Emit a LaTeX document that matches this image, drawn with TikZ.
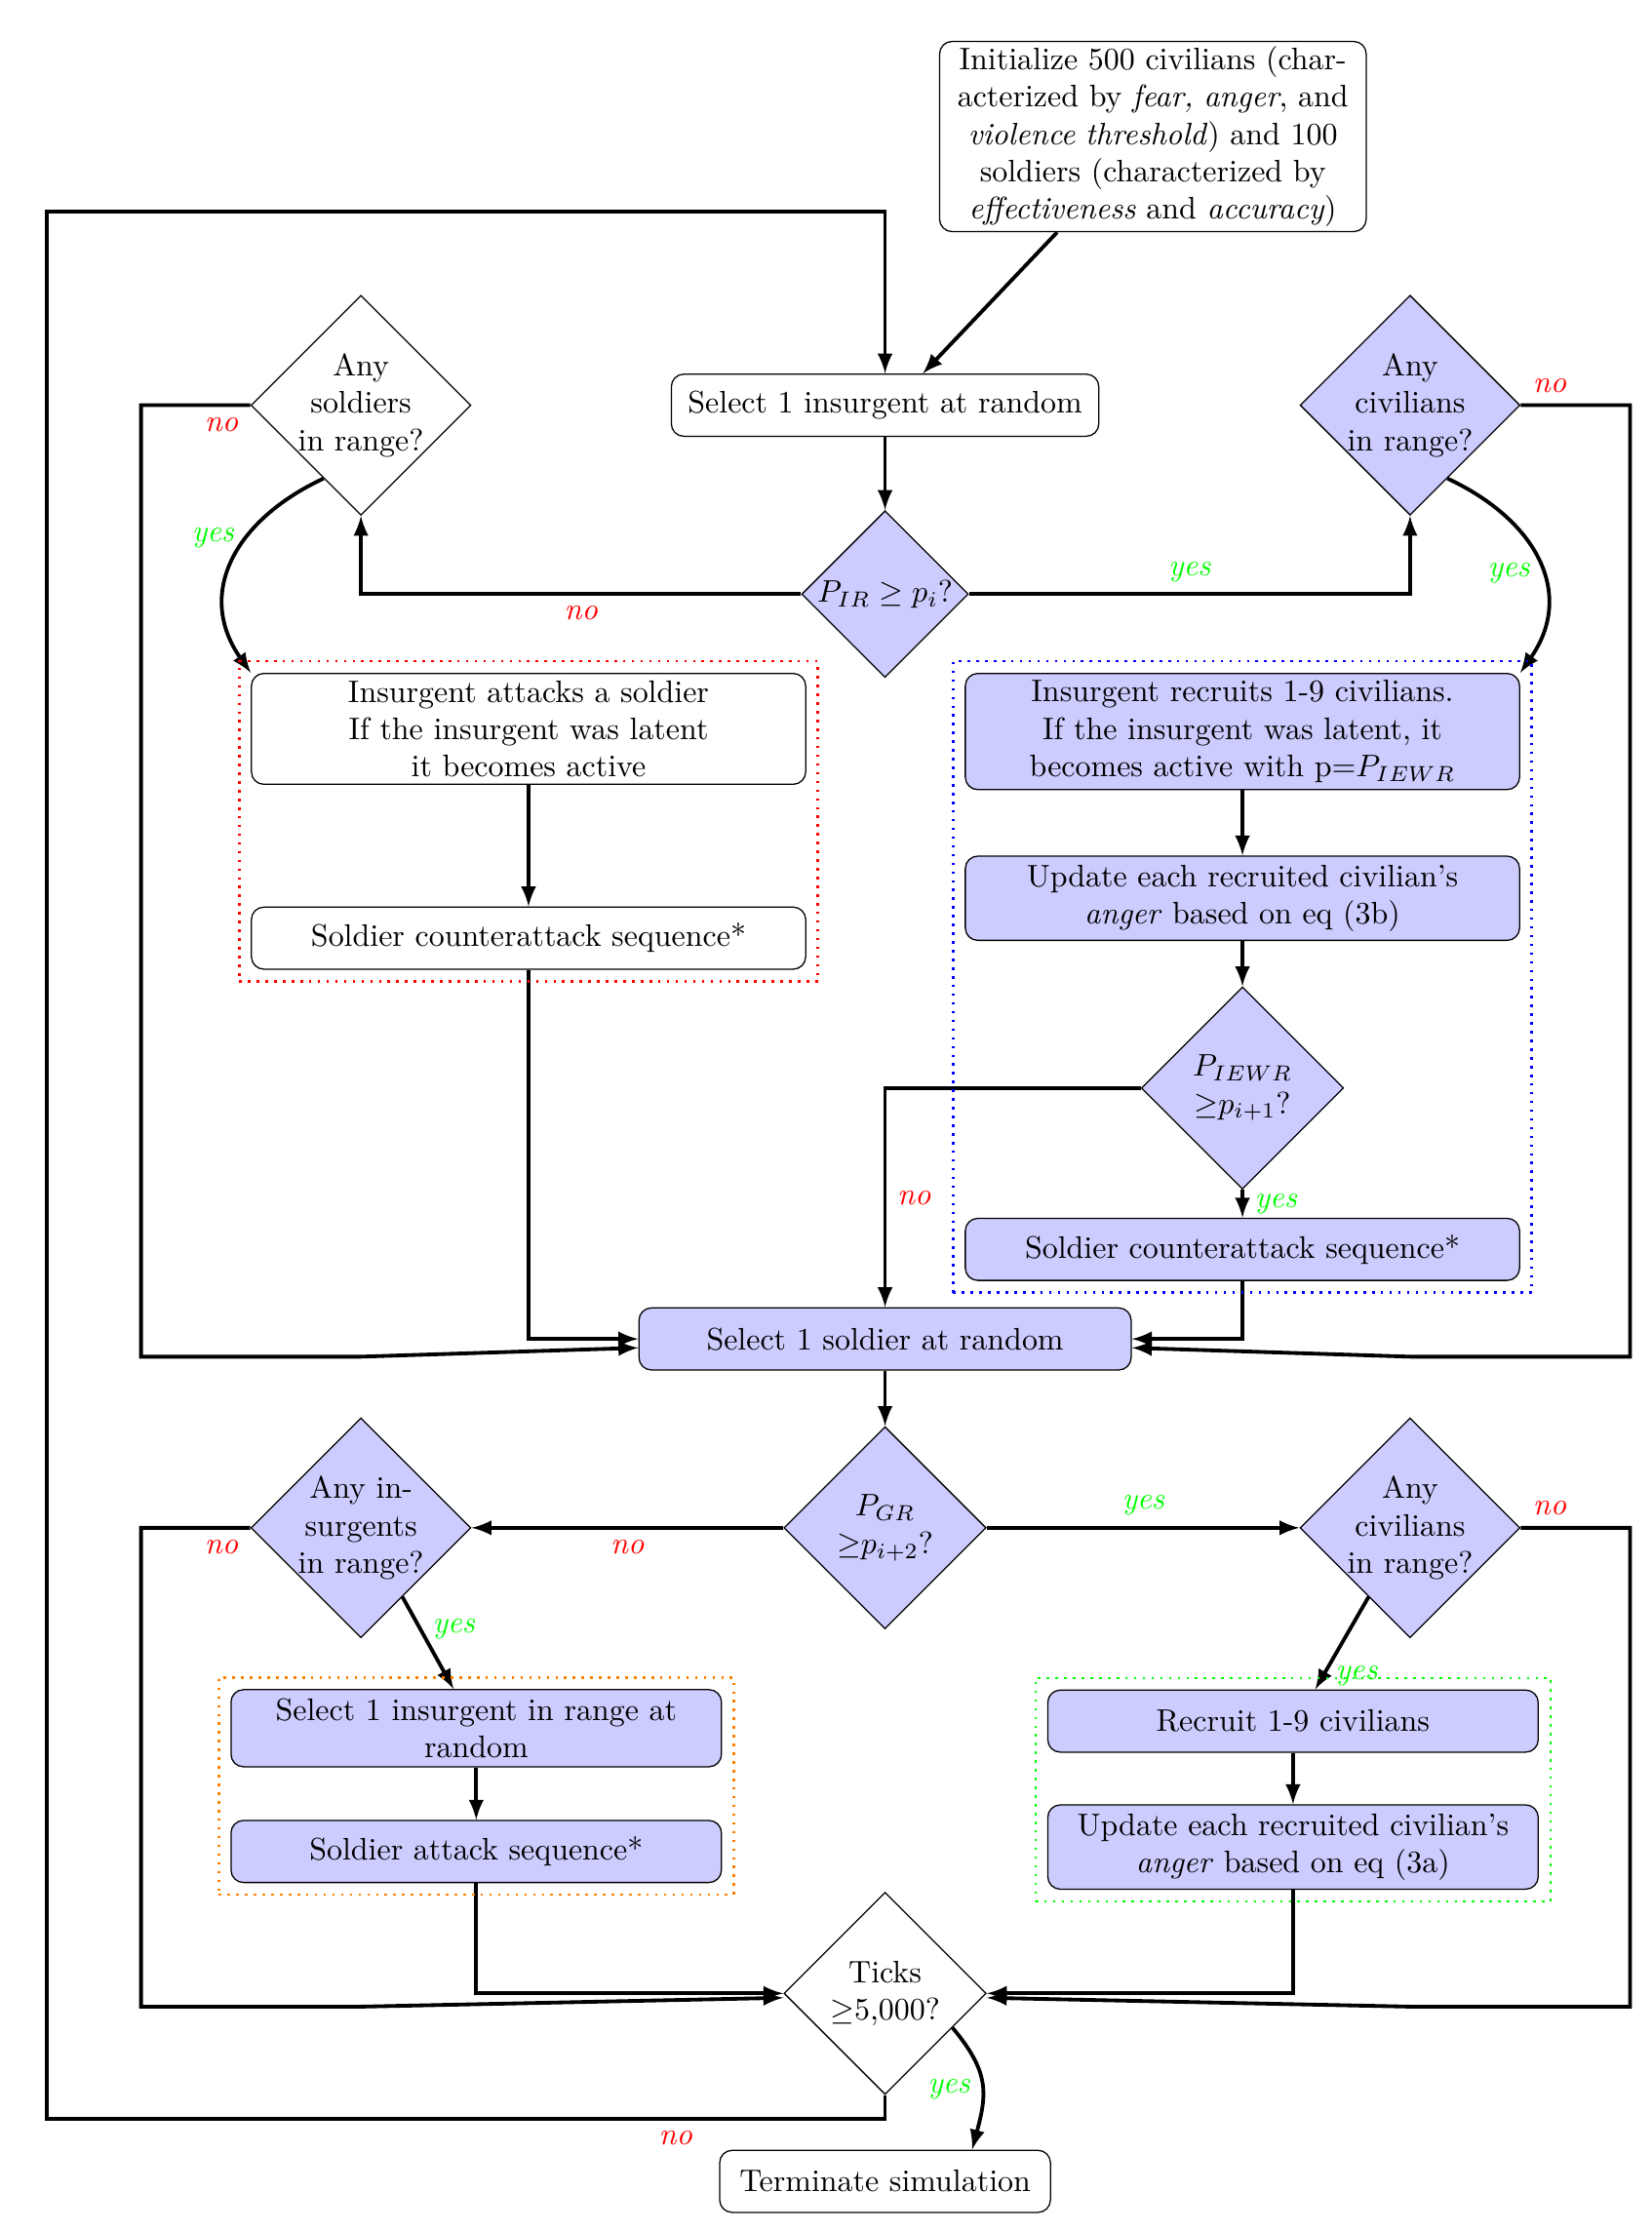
\documentclass[tikz,border=0pt]{standalone}
\usepackage{tikz}
\usetikzlibrary{shapes.geometric,fit,calc}

\begin{document}
\begin{tikzpicture}[
	stepbox/.style={draw,rectangle,rounded corners,align=center,inner xsep=3pt,inner ysep=1.5pt,minimum height=0.7cm},
	decision/.style={draw,diamond,aspect=1,align=center,inner sep=-4pt},
	filled/.style={fill=blue!20},
	arrowline/.style={draw,very thick,-latex},
	yeslab/.style={text=green,font=\itshape},
	nolab/.style={text=red,font=\itshape},
	framebox/.style={draw,thick,dotted,inner sep=0.13cm}
]
	\useasboundingbox (0,0) rectangle (18.628,25.16);
	% insurgent part
	\node[stepbox,text width=4.6cm] (init) at (13.0,23.62) {Initialize 500 civilians (char-\\acterized by \textit{fear, anger}, and\\\textit{violence threshold}) and 100\\soldiers (characterized by\\\textit{effectiveness} and \textit{accuracy})};
	\node[stepbox,minimum width=4.82cm] (selins) at (9.98,20.59) {Select 1 insurgent at random};
	\node[decision,filled,minimum size=1.88cm] (pir) at (9.98,18.46) {$P_{IR}\geq p_i$?};
	\node[decision,minimum size=2.48cm] (anysold) at (4.07,20.59) {Any\\soldiers\\in range?};
	\node[decision,filled,minimum size=2.48cm] (anyciv) at (15.9,20.59) {Any\\civilians\\in range?};
	\node[stepbox,minimum width=6.25cm,minimum height=1.25cm] (attack) at (5.96,16.94) {Insurgent attacks a soldier\\If the insurgent was latent\\it becomes active};
	\node[stepbox,minimum width=6.25cm] (counter) at (5.96,14.58) {Soldier counterattack sequence*};
	\node[stepbox,filled,minimum width=6.25cm,minimum height=1.31cm] (recruit) at (14.01,16.91) {Insurgent recruits 1-9 civilians.\\If the insurgent was latent, it\\becomes active with p=$P_{IEWR}$};
	\node[stepbox,filled,minimum width=6.25cm,minimum height=0.95cm] (angerb) at (14.01,15.03) {Update each recruited civilian's\\\textit{anger} based on eq (3b)};
	\node[decision,filled,minimum size=2.28cm] (iewr) at (14.01,12.89) {$P_{IEWR}$\\${\geq}p_{i+1}$?};
	\node[stepbox,filled,minimum width=6.25cm] (counterb) at (14.01,11.07) {Soldier counterattack sequence*};
	% soldier part
	\node[stepbox,filled,minimum width=5.55cm] (selsold) at (9.98,10.06) {Select 1 soldier at random};
	\node[decision,filled,minimum size=2.28cm] (pgr) at (9.98,7.93) {$P_{GR}$\\${\geq}p_{i+2}$?};
	\node[decision,filled,minimum size=2.48cm] (anyins) at (4.07,7.93) {Any in-\\surgents\\in range?};
	\node[decision,filled,minimum size=2.48cm] (anycivb) at (15.9,7.93) {Any\\civilians\\in range?};
	\node[stepbox,filled,minimum width=5.53cm,minimum height=0.87cm] (selinsr) at (5.37,5.67) {Select 1 insurgent in range at\\random};
	\node[stepbox,filled,minimum width=5.53cm] (soldatt) at (5.37,4.28) {Soldier attack sequence*};
	\node[stepbox,filled,minimum width=5.53cm] (recruitb) at (14.58,5.75) {Recruit 1-9 civilians};
	\node[stepbox,filled,minimum width=5.53cm,minimum height=0.95cm] (angera) at (14.58,4.33) {Update each recruited civilian's\\\textit{anger} based on eq (3a)};
	\node[decision,minimum size=2.28cm] (ticks) at (9.98,2.68) {Ticks\\$\geq$5,000?};
	\node[stepbox,minimum width=3.73cm] (term) at (9.98,0.56) {Terminate simulation};
	% connectors
	\draw[arrowline] (init.225) -- (selins.40);
	\draw[arrowline] (selins) -- (pir);
	\draw[arrowline] (pir.west) -| node[nolab,pos=0.25,below] {no} (anysold.south);
	\draw[arrowline] (pir.east) -| node[yeslab,pos=0.25,above] {yes} (anyciv.south);
	\draw[arrowline] (anysold.243) to[out=205,in=125,looseness=1.2] node[yeslab,pos=0.38,left] {yes} (attack.north west);
	\draw[arrowline] (anyciv.297) to[out=-25,in=55,looseness=1.2] node[yeslab,pos=0.56,left] {yes} (recruit.north east);
	\draw[arrowline] (anysold.west) node[nolab,below left] {no} -| (1.59,9.86) -- (4.07,9.86) -- ($(selsold.west)+(0,-0.1)$);
	\draw[arrowline] (anyciv.east) node[nolab,above right] {no} -| (18.38,9.86) -- (15.9,9.86) -- ($(selsold.east)+(0,-0.1)$);
	\draw[arrowline] (attack) -- (counter);
	\draw[arrowline] (counter.south) |- (selsold.west);
	\draw[arrowline] (recruit) -- (angerb);
	\draw[arrowline] (angerb) -- (iewr);
	\draw[arrowline] (iewr.west) -| node[nolab,pos=0.75,right] {no} (selsold.north);
	\draw[arrowline] (iewr) -- node[yeslab,right] {yes} (counterb);
	\draw[arrowline] (counterb.south) |- (selsold.east);
	\draw[arrowline] (selsold) -- (pgr);
	\draw[arrowline] (pgr.west) -- node[nolab,below] {no} (anyins.east);
	\draw[arrowline] (pgr.east) -- node[yeslab,above] {yes} (anycivb.west);
	\draw[arrowline] (anyins.-59) -- node[yeslab,pos=0.35,right] {yes} (selinsr.120);
	\draw[arrowline] (anycivb.239) -- node[yeslab,pos=0.85,right] {yes} (recruitb.55);
	\draw[arrowline] (anyins.west) node[nolab,below left] {no} -| (1.59,2.53) -- (4.07,2.53) -- ($(ticks.west)+(0,-0.05)$);
	\draw[arrowline] (anycivb.east) node[nolab,above right] {no} -| (18.38,2.53) -- (15.9,2.53) -- ($(ticks.east)+(0,-0.05)$);
	\draw[arrowline] (selinsr) -- (soldatt);
	\draw[arrowline] (soldatt.south) |- (ticks.west);
	\draw[arrowline] (recruitb) -- (angera);
	\draw[arrowline] (angera.south) |- (ticks.east);
	\draw[arrowline] (ticks.-27) to[out=-50,in=75,looseness=1.2] node[yeslab,pos=0.55,left] {yes} (term.20);
	\draw[arrowline] (ticks.south) -- ++(0,-0.27) -| node[nolab,pos=0.125,below] {no} (0.53,22.77) -| (selins.north);
	% dotted groups
	\node[framebox,draw=red,fit=(attack)(counter)] (redgroup) {};
	\node[framebox,draw=blue,fit=(recruit)(counterb)] (bluegroup) {};
	\node[framebox,draw=orange,fit=(selinsr)(soldatt)] (orangegroup) {};
	\node[framebox,draw=green,fit=(recruitb)(angera)] (greengroup) {};
\end{tikzpicture}
\end{document}
